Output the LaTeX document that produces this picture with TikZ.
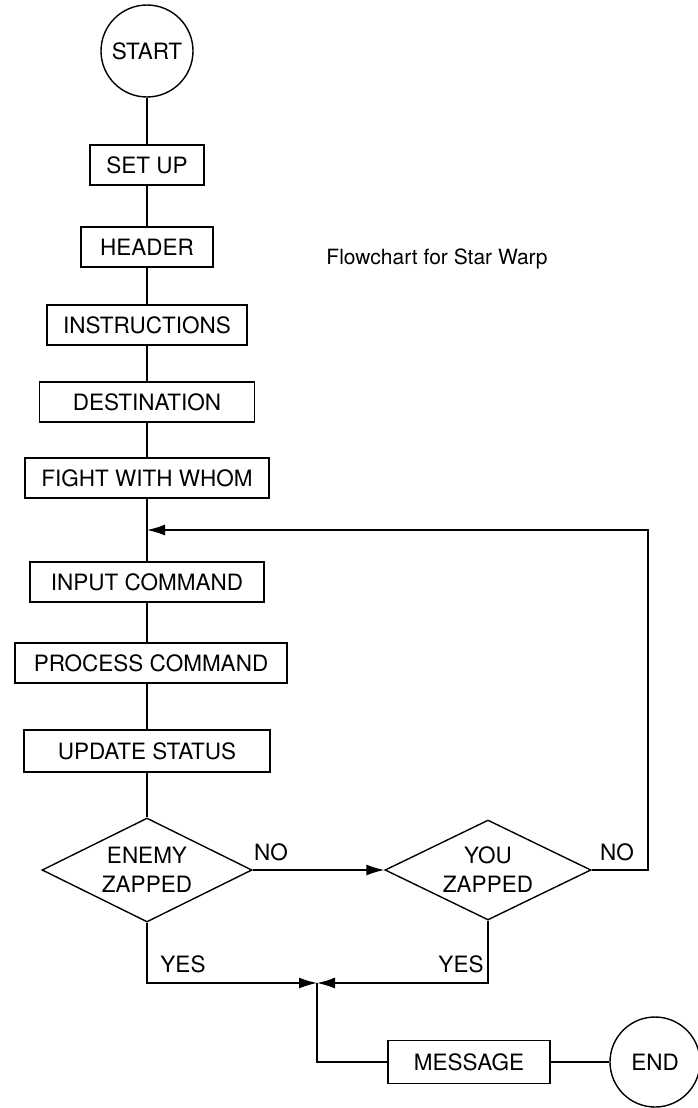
\documentclass[tikz,border=0pt]{standalone}
\usepackage{fontspec}
\setmainfont{TeX Gyre Heros}
\usetikzlibrary{shapes.geometric,arrows.meta}

\begin{document}
\begin{tikzpicture}[x=1pt,y=-1pt,line width=1.4pt,
	font=\fontsize{22.5}{27}\selectfont,
	box/.style={draw, rectangle, minimum height=40pt, inner sep=0pt},
	term/.style={draw, circle, minimum size=92pt, inner sep=0pt},
	test/.style={draw, diamond, aspect=2, minimum width=210pt, minimum height=104pt, inner sep=0pt, align=center, font=\fontsize{22.5}{29}\selectfont},
	flow/.style={-{Latex[length=18pt,width=11pt]}}]
	\useasboundingbox (0,0) rectangle (698,1108);

	\node[term] (start) at (147,51) {START};
	\node[box, minimum width=114pt] (setup) at (147,165) {SET UP};
	\node[box, minimum width=132pt] (header) at (147,247) {HEADER};
	\node[box, minimum width=200pt] (instr) at (147,325) {INSTRUCTIONS};
	\node[box, minimum width=215pt] (dest) at (147,402) {DESTINATION};
	\node[box, minimum width=244pt] (fight) at (147,478) {FIGHT WITH WHOM};
	\node[box, minimum width=234pt] (input) at (147,582) {INPUT COMMAND};
	\node[box, minimum width=272pt] (process) at (151,663) {PROCESS COMMAND};
	\node[box, minimum width=246pt, minimum height=42pt] (update) at (147,751) {UPDATE STATUS};
	\node[test] (enemy) at (147,870) {ENEMY\\ZAPPED};
	\node[test, minimum width=206pt, minimum height=100pt] (you) at (488,870) {YOU\\ZAPPED};
	\node[box, minimum width=162pt, minimum height=43pt] (msg) at (469,1062) {MESSAGE};
	\node[term, minimum size=90pt] (end) at (655,1062) {END};
	\node[font=\fontsize{21}{25}\selectfont] (title) at (437,259) {Flowchart for Star Warp};

	\coordinate (lp) at (147,530);
	\coordinate (rt) at (648,870);
	\coordinate (jn) at (317,983);

	\draw (start) -- (setup) -- (header) -- (instr) -- (dest) -- (fight) -- (input);
	\draw (input) -- (process.north -| input) (process.south -| update) -- (update) -- (enemy);
	\draw[flow] (enemy.east) -- (you.west);
	\draw[flow] (you.east) -- (rt) |- (lp);
	\draw[flow] (enemy.south) |- (jn);
	\draw[flow] (you.south) |- (jn);
	\draw (jn) |- (msg);
	\draw (msg) -- (end);

	\node (noa) at (271,852) {NO};
	\node (nob) at (617,852) {NO};
	\node (yesa) at (183,964) {YES};
	\node (yesb) at (461,964) {YES};
\end{tikzpicture}
\end{document}
